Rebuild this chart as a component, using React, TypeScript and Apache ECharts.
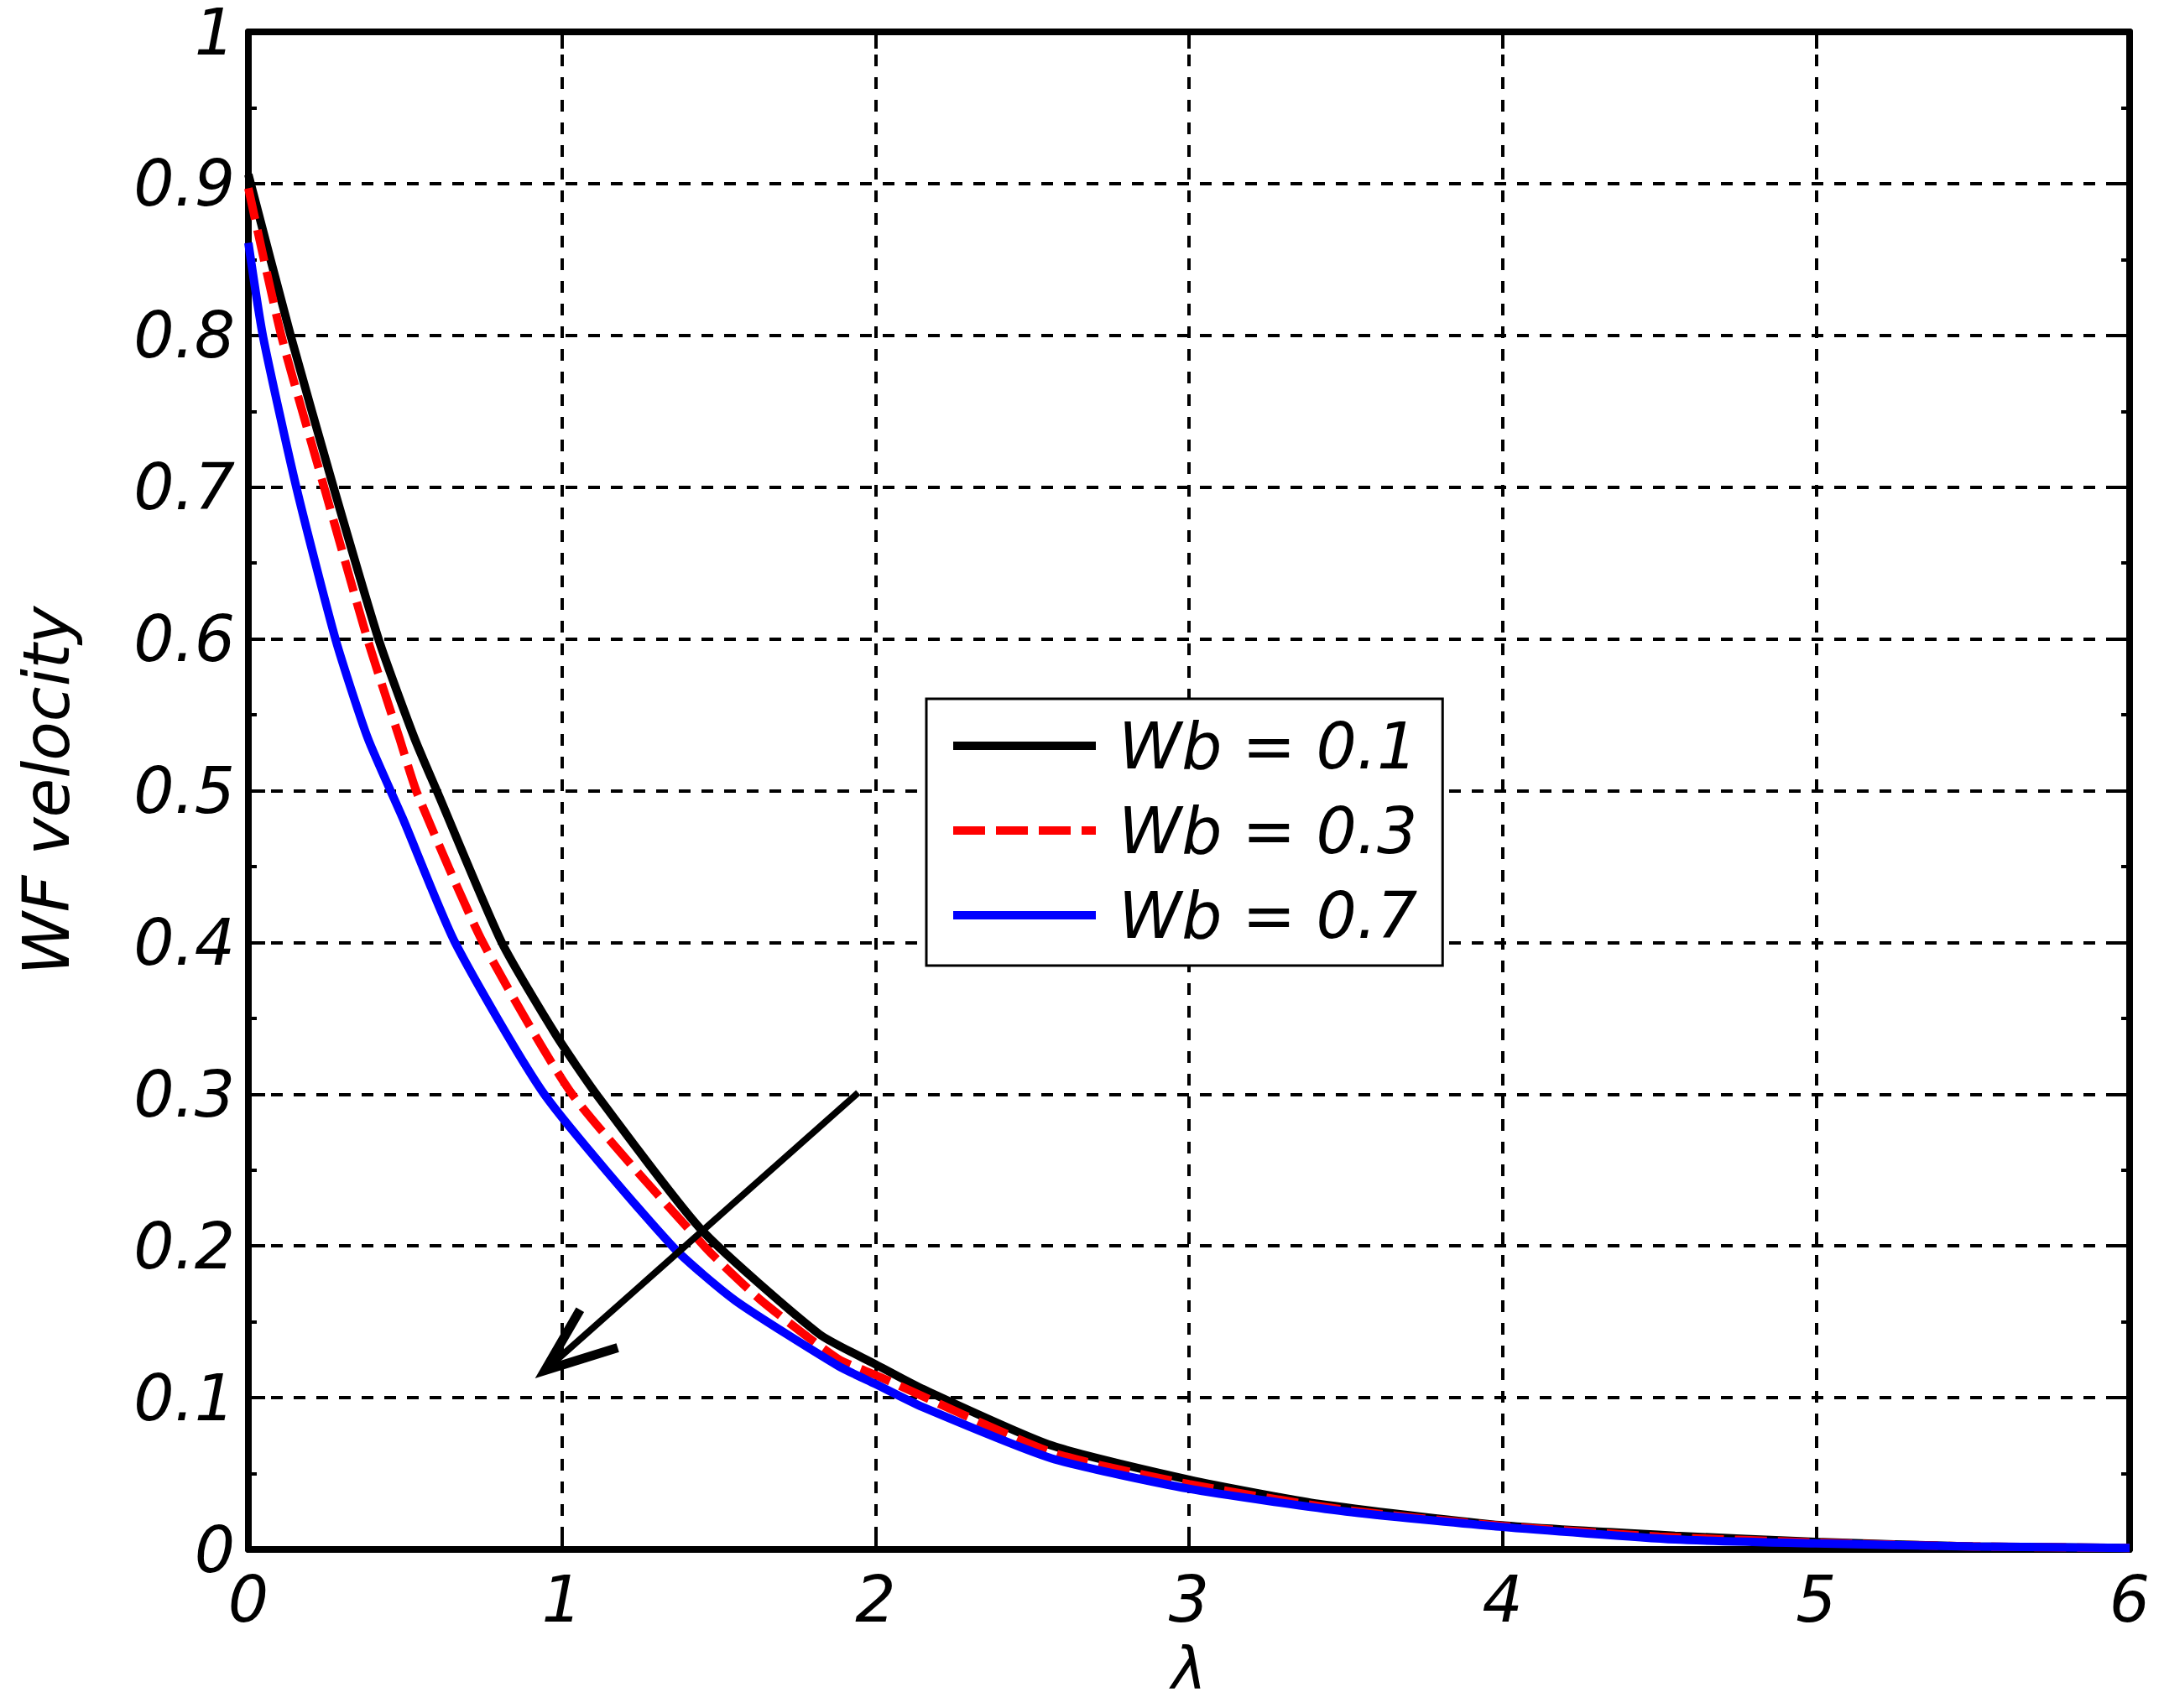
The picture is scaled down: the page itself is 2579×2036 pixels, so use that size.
import { useRef, useEffect } from "react";
import * as echarts from "echarts";

// λ / WF velocity readings for each curve
const lambdaWb01 = [0, 0.136, 0.273, 0.4165, 0.53, 0.605, 0.808, 0.981, 1.111, 1.445, 1.82, 2.0, 2.148, 2.562, 3.0, 3.414, 3.99, 4.55, 5.0, 5.5, 6.0];
const velWb01 = [0.906, 0.799, 0.699, 0.599, 0.5345, 0.498, 0.4, 0.339, 0.2996, 0.2106, 0.142, 0.122, 0.106, 0.0685, 0.046, 0.03, 0.016, 0.009, 0.005, 0.002, 0.001];

const lambdaWb03 = [0, 0.106, 0.243, 0.381, 0.482, 0.539, 0.748, 1.034, 1.458, 1.636, 1.881, 2.0, 2.562, 3.0, 3.5, 4.0, 4.5, 5.0, 5.5, 6.0];
const velWb03 = [0.897, 0.799, 0.699, 0.599, 0.5345, 0.498, 0.4, 0.2996, 0.199, 0.164, 0.1255, 0.115, 0.064, 0.043, 0.026, 0.0155, 0.0085, 0.0045, 0.002, 0.001];

const lambdaWb07 = [0, 0.047, 0.154, 0.279, 0.381, 0.492, 0.659, 0.945, 1.356, 1.553, 1.881, 2.0, 2.148, 2.562, 3.0, 3.5, 3.99, 4.55, 5.0, 5.5, 6.0];
const velWb07 = [0.861, 0.799, 0.699, 0.599, 0.5345, 0.482, 0.4, 0.2996, 0.199, 0.164, 0.121, 0.109, 0.094, 0.06, 0.04, 0.025, 0.015, 0.0066, 0.004, 0.002, 0.001];

const seriesNames = ["Wb = 0.1", "Wb = 0.3", "Wb = 0.7"];

// arrow (data coordinates): shaft and open head
const arrowShaftX = [1.945, 0.946];
const arrowShaftY = [0.301, 0.118];
const arrowHeadX = [1.058, 0.946, 1.178];
const arrowHeadY = [0.158, 0.118, 0.133];

const FONT = "'DejaVu Sans', Verdana, sans-serif";

// legend samples: solid bar, and the dashed bar of the red curve
const solidIcon = "path://M0 0H170V10H0Z";
const dashIcon = "path://M0 0H38V10H0Z M51 0H89V10H51Z M102 0H140V10H102Z M153 0H170V10H153Z";

const zip = (xs: number[], ys: number[]) => xs.map((x, i) => [x, ys[i]]);

const App = () => {
  const chartRef = useRef<HTMLDivElement>(null);

  useEffect(() => {
    const myChart = echarts.init(chartRef.current, null, { renderer: "svg" });

    const axisLine = { show: true, onZero: false, lineStyle: { color: "#000", width: 8 } };
    const tick = { show: true, inside: true, length: 20, lineStyle: { color: "#000", width: 4 } };
    const minor = { show: true, splitNumber: 2, length: 10, lineStyle: { color: "#000", width: 4 } };
    const grid = { show: true, lineStyle: { color: "#000", width: 4, type: [14, 13] } };
    const label = { color: "#000", fontSize: 76, fontStyle: "italic", fontFamily: FONT, lineHeight: 50 };
    const curve = { symbol: "none", smooth: 0.2 };

    const option = {
      animation: false,
      backgroundColor: "#fff",
      grid: { left: 288, right: 33, top: 30, bottom: 181, outerBoundsMode: "none" },
      legend: {
        data: [
          { name: seriesNames[0], icon: solidIcon },
          { name: seriesNames[1], icon: dashIcon },
          { name: seriesNames[2], icon: solidIcon },
        ],
        orient: "vertical",
        left: 1096,
        top: 825,
        itemWidth: 170,
        itemHeight: 10,
        itemGap: 21,
        padding: [16, 30, 20, 32],
        borderColor: "#000",
        borderWidth: 3,
        backgroundColor: "#fff",
        textStyle: {
          color: "#000",
          fontSize: 76,
          fontStyle: "italic",
          fontFamily: FONT,
          lineHeight: 80,
          padding: [0, 0, 0, 22],
        },
      },
      xAxis: [
        {
          type: "value",
          min: 0,
          max: 6,
          interval: 1,
          position: "bottom",
          axisLine,
          axisTick: tick,
          splitLine: grid,
          axisLabel: { ...label, margin: 34 },
          name: "λ",
          nameLocation: "middle",
          nameGap: 120,
          nameTextStyle: { ...label, fontSize: 70, lineHeight: 44 },
        },
        {
          type: "value",
          min: 0,
          max: 6,
          interval: 1,
          position: "top",
          axisLine,
          axisTick: tick,
          splitLine: { show: false },
          axisLabel: { show: false },
        },
      ],
      yAxis: [
        {
          type: "value",
          min: 0,
          max: 1,
          interval: 0.1,
          position: "left",
          axisLine,
          axisTick: tick,
          minorTick: minor,
          splitLine: grid,
          axisLabel: { ...label, margin: 16 },
          name: "WF velocity",
          nameLocation: "middle",
          nameGap: 216,
          nameTextStyle: { ...label, fontSize: 76 },
        },
        {
          type: "value",
          min: 0,
          max: 1,
          interval: 0.1,
          position: "right",
          axisLine,
          axisTick: tick,
          minorTick: minor,
          splitLine: { show: false },
          axisLabel: { show: false },
        },
      ],
      series: [
        {
          name: seriesNames[0],
          type: "line",
          data: zip(lambdaWb01, velWb01),
          ...curve,
          color: "#000000",
          lineStyle: { color: "#000000", width: 10 },
        },
        {
          name: seriesNames[1],
          type: "line",
          data: zip(lambdaWb03, velWb03),
          ...curve,
          color: "#ff0000",
          lineStyle: { color: "#ff0000", width: 10, type: [38, 13] },
        },
        {
          name: seriesNames[2],
          type: "line",
          data: zip(lambdaWb07, velWb07),
          ...curve,
          color: "#0000ff",
          lineStyle: { color: "#0000ff", width: 10 },
        },
        {
          type: "line",
          data: zip(arrowShaftX, arrowShaftY),
          symbol: "none",
          silent: true,
          lineStyle: { color: "#000", width: 8 },
        },
        {
          type: "line",
          data: zip(arrowHeadX, arrowHeadY),
          symbol: "none",
          silent: true,
          lineStyle: { color: "#000", width: 11, join: "miter" },
        },
      ],
    };

    myChart.setOption(option);

    return () => {
      myChart.dispose();
    };
  }, []);

  return <div ref={chartRef} style={{ width: "2563px", height: "2020px" }}></div>;
};

export default App;
